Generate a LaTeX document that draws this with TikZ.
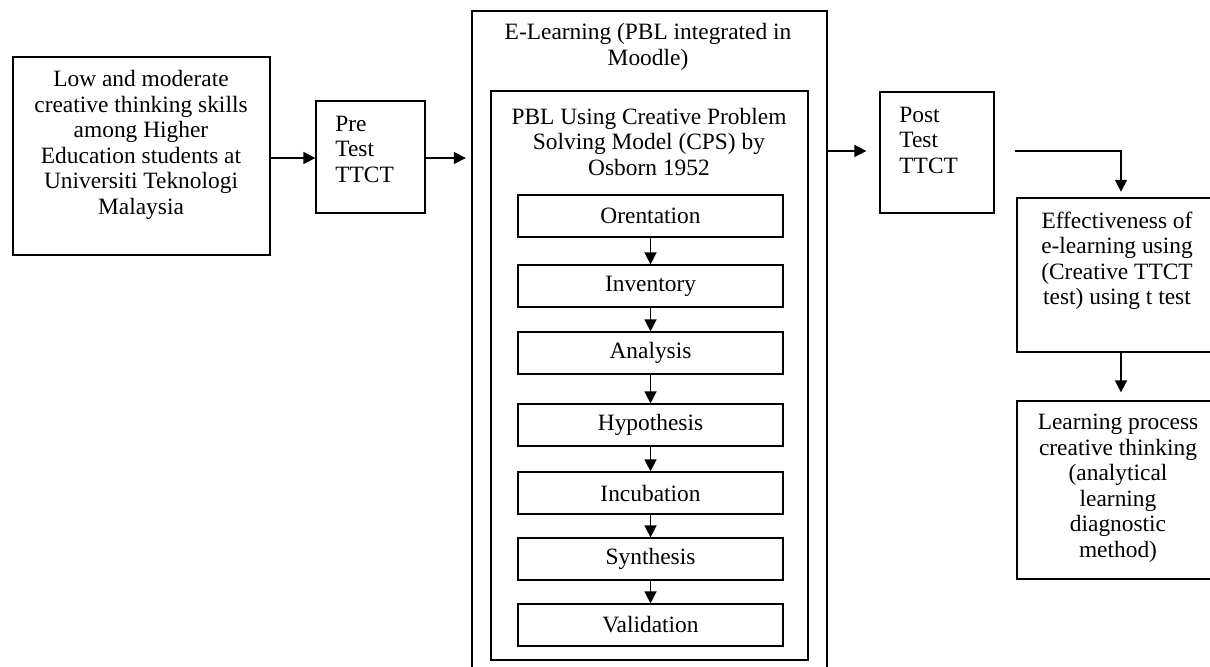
\documentclass[tikz,border=0pt]{standalone}
\usepackage{fontspec}
\setmainfont{Liberation Serif}
\usetikzlibrary{fit,arrows.meta}
\begin{document}
\begin{tikzpicture}[x=0.5pt,y=-0.5pt,
  every node/.style={font=\fontsize{11.7}{12.75}\selectfont},
  thinbox/.style={draw, line width=0.6pt, inner sep=0pt},
  thickbox/.style={draw, line width=1.2pt, inner sep=0pt},
  stepbox/.style={draw, line width=0.6pt, inner sep=0pt, minimum width=132.5pt, minimum height=21pt},
  txt/.style={inner sep=0pt, align=center},
  arr/.style={line width=0.7pt, -{Triangle[length=6pt,width=6pt]}}]
\useasboundingbox (0,0) rectangle (1210,667);
\clip (0,0) rectangle (1210,667);
% left box
\node[thickbox, fit={(13,57) (270,255)}] (left) {};
\node[txt] (lefttxt) at (141,145) {Low and moderate\\creative thinking skills\\among Higher\\Education students at\\Universiti Teknologi\\Malaysia};
% pre box
\node[thinbox, fit={(316,101) (425,213)}] (pre) {};
\node[txt, align=left, anchor=west] (pretxt) at (335,149) {Pre\\Test\\TTCT};
% outer e-learning
\node[thickbox, fit={(472,11) (827,668)}] (outer) {};
\node[txt] (outertxt) at (648,47) {E-Learning (PBL integrated in\\Moodle)};
% inner
\node[thickbox, fit={(491,91) (808,660)}] (inner) {};
\node[txt] (innertxt) at (649,142) {PBL Using Creative Problem\\Solving Model (CPS) by\\Osborn 1952};
% steps
\node[stepbox] (s1) at (650.5,216) {Orentation};
\node[stepbox] (s2) at (650.5,286) {Inventory};
\node[stepbox] (s3) at (650.5,353) {Analysis};
\node[stepbox] (s4) at (650.5,425) {Hypothesis};
\node[stepbox] (s5) at (650.5,493) {Incubation};
\node[stepbox] (s6) at (650.5,559) {Synthesis};
\node[stepbox] (s7) at (650.5,625) {Validation};
\foreach \a/\b in {s1/s2,s2/s3,s3/s4,s4/s5,s5/s6,s6/s7}
  \draw[arr] (\a.south) -- (\b.north);
% post
\node[thinbox, fit={(880,92) (994,213)}] (post) {};
\node[txt, align=left, anchor=west] (posttxt) at (899,140) {Post\\Test\\TTCT};
% effectiveness
\node[thickbox, fit={(1017,198) (1225,352)}] (eff) {};
\node[txt] (efftxt) at (1117,261) {Effectiveness of\\e-learning using\\(Creative TTCT\\test) using t test};
% learning process
\node[thinbox, fit={(1017,401) (1225,579)}] (learn) {};
\node[txt] (learntxt) at (1118,488) {Learning process\\creative thinking\\(analytical\\learning\\diagnostic\\method)};
% connectors
\draw[arr] (left.east |- 0,158) -- (pre.west |- 0,158);
\draw[arr, shorten >=2.5pt] (pre.east |- 0,158) -- (outer.west |- 0,158);
\draw[arr, shorten >=6.5pt] (outer.east |- 0,151) -- (post.west |- 0,151);
\draw[arr, shorten <=10pt, shorten >=2.5pt] (post.east |- 0,151) -| (eff.north);
\draw[arr, shorten >=4pt] (eff.south) -- (learn.north);
\end{tikzpicture}
\end{document}
